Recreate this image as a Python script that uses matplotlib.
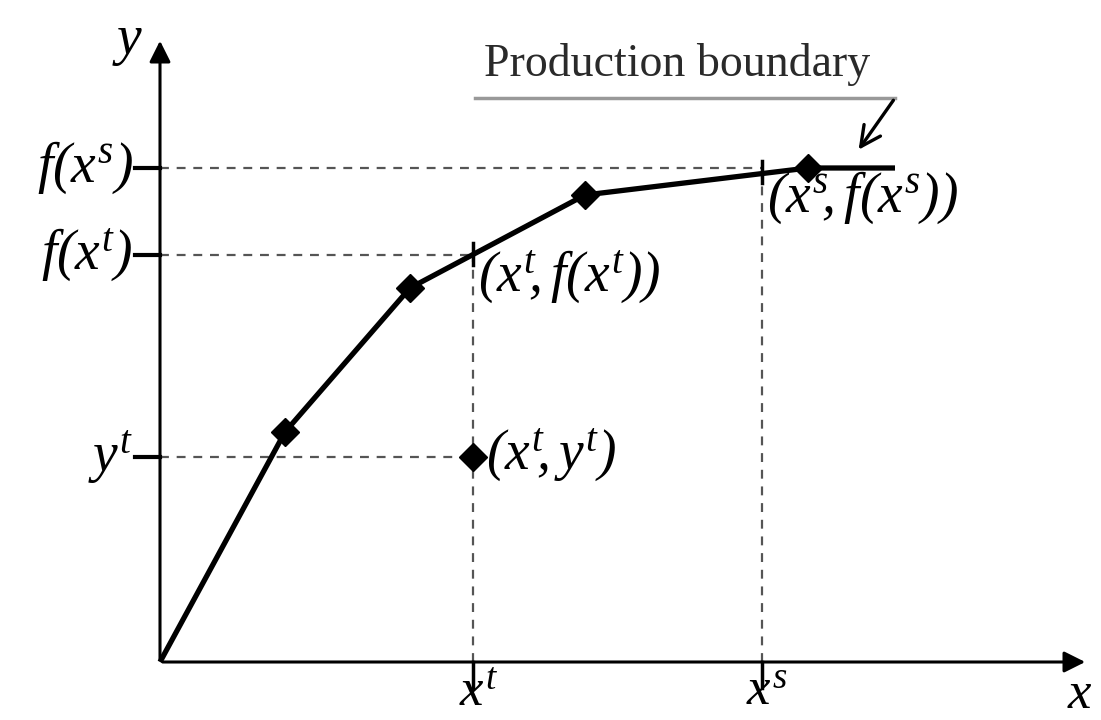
import matplotlib.pyplot as plt

plt.rcParams['mathtext.fontset'] = 'custom'
plt.rcParams['mathtext.it'] = 'Liberation Serif:italic'
plt.rcParams['mathtext.rm'] = 'Liberation Serif:italic'
plt.rcParams['font.family'] = 'Liberation Serif'

# frontier (piecewise linear production boundary)
front_x = [0.0, 1.25, 2.50, 4.25, 6.48, 7.35]
front_y = [0.0, 2.30, 3.74, 4.67, 4.94, 4.94]
# diamonds on the frontier
knot_x = [1.25, 2.50, 4.25, 6.48]
knot_y = [2.30, 3.74, 4.67, 4.94]

x_t, x_s = 3.13, 6.02
y_t = 2.05
fx_t, fx_s = 4.07, 4.94

fig = plt.figure(figsize=(11.01, 7.2), dpi=100)
ax = fig.add_axes([0, 0, 1, 1])
ax.set_xlim(-1.60, 9.41)
ax.set_ylim(-0.58, 6.62)
ax.axis('off')

# axes with arrows
ax.annotate('', xy=(0, 6.24), xytext=(0, 0),
            arrowprops=dict(arrowstyle='-|>', lw=2.2, color='black', mutation_scale=32))
ax.annotate('', xy=(9.28, 0), xytext=(0, 0),
            arrowprops=dict(arrowstyle='-|>', lw=2.2, color='black', mutation_scale=32))

# dashed guide lines
dash = dict(color='#555555', lw=1.6, ls=(0, (4, 3.5)))
ax.plot([0, x_s], [fx_s, fx_s], **dash)
ax.plot([0, x_t], [fx_t, fx_t], **dash)
ax.plot([0, x_t], [y_t, y_t], **dash)
ax.plot([x_t, x_t], [0, fx_t], **dash)
ax.plot([x_s, x_s], [0, fx_s], **dash)

# tick marks
for yv in [fx_s, fx_t, y_t]:
    ax.plot([-0.25, 0], [yv, yv], color='black', lw=3)
for xv in [x_t, x_s]:
    ax.plot([xv, xv], [0, -0.26], color='black', lw=2.5)
for xv, yv in [(x_t, fx_t), (x_s, fx_s - 0.05)]:
    ax.plot([xv, xv], [yv - 0.1, yv + 0.12], color='black', lw=2.5)

# frontier
ax.plot(front_x, front_y, color='black', lw=3.8, solid_capstyle='butt')
ax.plot(knot_x, knot_y, 'D', color='black', ms=14)
ax.plot([x_t], [y_t], 'D', color='black', ms=14)

fs = 40
ax.text(-0.32, 6.20, '$y$', fontsize=fs, ha='center', va='center')
ax.text(9.20, -0.33, '$x$', fontsize=38, ha='center', va='center')
ax.text(-0.27, fx_s, '$f(x^s)$', fontsize=fs, ha='right', va='center')
ax.text(-0.27, fx_t, '$f(x^t)$', fontsize=fs, ha='right', va='center')
ax.text(-0.27, y_t, '$y^t$', fontsize=fs, ha='right', va='center')
ax.text(x_t + 0.05, -0.31, '$x^t$', fontsize=38, ha='center', va='center')
ax.text(x_s + 0.05, -0.31, '$x^s$', fontsize=38, ha='center', va='center')
ax.text(x_t + 0.05, fx_t - 0.22, '$(x^t\\!,f(x^t))$', fontsize=fs, ha='left', va='center')
ax.text(x_s + 0.05, fx_s - 0.30, '$(x^s\\!,f(x^s))$', fontsize=fs, ha='left', va='center')
ax.text(x_t + 0.13, y_t + 0.02, '$(x^t\\!,y^t)$', fontsize=fs, ha='left', va='center')

# production boundary annotation
ax.text(5.17, 5.97, 'Production boundary', fontsize=33, ha='center', va='center', color='#2a2a2a')
ax.plot([3.15, 7.35], [5.64, 5.64], color='#999999', lw=2.5)
ax.annotate('', xy=(6.97, 5.10), xytext=(7.35, 5.64),
            arrowprops=dict(arrowstyle='->', lw=2.4, color='black', mutation_scale=36))

fig.savefig('out.png', dpi=100, facecolor='white')
